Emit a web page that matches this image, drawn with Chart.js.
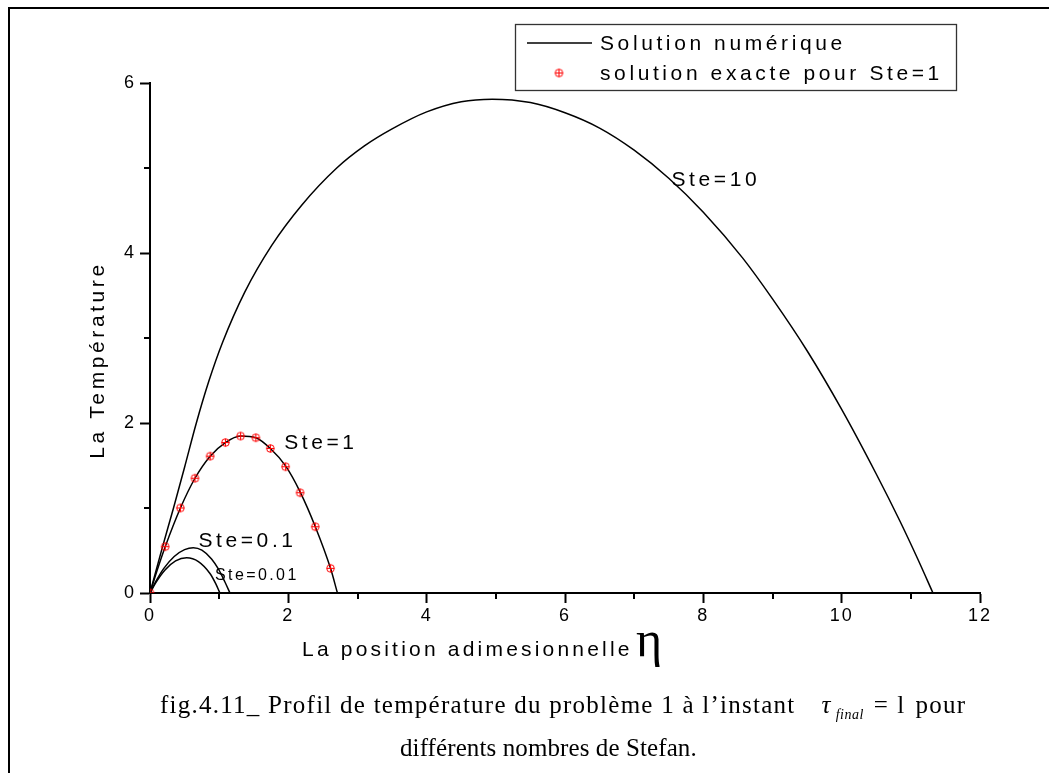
<!DOCTYPE html>
<html>
<head>
<meta charset="utf-8">
<script src="https://cdn.jsdelivr.net/npm/chart.js@4.4.1/dist/chart.umd.min.js"></script>
<style>
  body { margin: 0; background: #fff; }
  #wrap { position: relative; width: 1049px; height: 773px; overflow: hidden; }
  #frame { position: absolute; left: 8px; top: 7px; right: -10px; bottom: -10px; border-top: 2px solid #000; border-left: 2px solid #000; }
  #c { position: absolute; left: 0; top: 0; }
  .cap { position: absolute; font-family: "Liberation Serif", "Times New Roman", serif; font-size: 25px; line-height: 25px; color: #000; white-space: nowrap; }
  .cap .eq { display: inline-block; margin: 0 10px 0 26px; }
  .cap .eq i { font-style: italic; }
  .cap sub { font-style: italic; font-size: 14px; vertical-align: -6px; line-height: 0; margin-left: 4px; letter-spacing: 0.5px; }
  .cap .op { margin: 0 8px 0 10px; }
</style>
</head>
<body>
<div id="wrap">
  <div id="frame"></div>
  <canvas id="c" width="1049" height="773"></canvas>
  <div class="cap" style="left:160px; top:692px; letter-spacing:1.25px">fig.4.11_ Profil de température du problème 1 à l’instant<span class="eq"><i>τ</i><sub>final</sub><span class="op">=</span>l</span>pour</div>
  <div class="cap" style="left:400px; top:735px; letter-spacing:0.1px">différents nombres de Stefan.</div>
</div>
<script>
// axes
const xTicks = [0, 2, 4, 6, 8, 10, 12];
const yTicks = [0, 2, 4, 6];
const xMinor = [1, 3, 5, 7, 9, 11];
const yMinor = [1, 3, 5];

// solution numérique
const ste10X = [0, 0.17, 0.34, 0.5, 0.67, 0.85, 1.05, 1.37, 1.76, 2.19, 2.7, 3.1, 3.5, 4.0, 4.5, 4.95, 5.5, 6.0, 6.5, 7.0, 7.5, 8.0, 8.57, 9.0, 9.5, 10.0, 10.5, 10.84, 11.1, 11.32];
const ste10Y = [0, 0.51, 1.0, 1.48, 2.0, 2.49, 2.95, 3.54, 4.09, 4.56, 5.0, 5.26, 5.46, 5.66, 5.78, 5.81, 5.77, 5.65, 5.47, 5.21, 4.88, 4.48, 3.94, 3.46, 2.85, 2.16, 1.40, 0.85, 0.40, 0];

const ste1X = [0, 0.1, 0.22, 0.44, 0.65, 0.87, 1.09, 1.31, 1.53, 1.74, 1.96, 2.17, 2.39, 2.61, 2.71];
const ste1Y = [0, 0.26, 0.545, 1.0, 1.35, 1.61, 1.77, 1.847, 1.827, 1.70, 1.495, 1.19, 0.78, 0.29, 0];

const ste01X = [0, 0.08, 0.2, 0.35, 0.5, 0.626, 0.75, 0.89, 0.99, 1.08, 1.156];
const ste01Y = [0, 0.13, 0.29, 0.43, 0.51, 0.533, 0.504, 0.40, 0.28, 0.135, 0];

const ste001X = [0, 0.08, 0.217, 0.37, 0.53, 0.7, 0.867, 0.95, 1.01];
const ste001Y = [0, 0.116, 0.27, 0.377, 0.415, 0.37, 0.23, 0.11, 0];

// solution exacte pour Ste=1
const exactX = [0, 0.22, 0.44, 0.65, 0.87, 1.09, 1.31, 1.53, 1.74, 1.96, 2.17, 2.39, 2.61];
const exactY = [0, 0.545, 1.0, 1.35, 1.61, 1.77, 1.847, 1.827, 1.70, 1.486, 1.18, 0.78, 0.29];

const legendLabels = ['Solution numérique', 'solution exacte pour Ste=1'];
const curveNames = ['Ste=10', 'Ste=1', 'Ste=0.1', 'Ste=0.01'];

const pts = (xs, ys) => xs.map((x, i) => ({ x, y: ys[i] }));

// rond rouge avec une croix
function plusCircle() {
  const c = document.createElement('canvas');
  c.width = c.height = 11;
  const g = c.getContext('2d');
  g.strokeStyle = '#ff0000'; g.lineWidth = 1;
  g.beginPath();
  g.arc(5.5, 5.5, 3.8, 0, Math.PI * 2);
  g.moveTo(1.7, 5.5); g.lineTo(9.3, 5.5);
  g.moveTo(5.5, 1.7); g.lineTo(5.5, 9.3);
  g.stroke();
  return c;
}
const marker = plusCircle();

const SANS = '"Liberation Sans", Arial, sans-serif';

function text(ctx, s, x, y, size, spacing, family) {
  ctx.save();
  ctx.font = size + 'px ' + (family || SANS);
  ctx.letterSpacing = spacing + 'px';
  ctx.fillStyle = '#000';
  ctx.textBaseline = 'alphabetic';
  ctx.textAlign = 'left';
  ctx.fillText(s, x, y);
  ctx.restore();
}

// libellés posés en coordonnées de données
const notes = [
  { name: curveNames[0], x: 7.54, y: 4.79, size: 21, sp: 3.6 },
  { name: curveNames[1], x: 1.94, y: 1.69, size: 21, sp: 3.6 },
  { name: curveNames[2], x: 0.70, y: 0.54, size: 21, sp: 3.6 },
  { name: curveNames[3], x: 0.94, y: 0.15, size: 16, sp: 2.4 },
];

const decor = {
  id: 'decor',
  beforeDraw(chart) { chart.ctx.letterSpacing = '2px'; },
  afterDraw(chart) {
    const ctx = chart.ctx, xs = chart.scales.x, ys = chart.scales.y;
    const a = chart.chartArea;
    ctx.save();
    ctx.letterSpacing = '0px';
    ctx.strokeStyle = '#000'; ctx.lineWidth = 2;
    ctx.beginPath();
    xMinor.forEach(v => { const p = Math.round(xs.getPixelForValue(v)); ctx.moveTo(p, a.bottom); ctx.lineTo(p, a.bottom + 6); });
    yMinor.forEach(v => { const p = Math.round(ys.getPixelForValue(v)); ctx.moveTo(a.left, p); ctx.lineTo(a.left - 6, p); });
    ctx.stroke();

    // légende
    ctx.strokeStyle = '#333'; ctx.lineWidth = 1.3;
    ctx.strokeRect(515.5, 24.5, 441, 66);
    ctx.strokeStyle = '#000'; ctx.lineWidth = 1.5;
    ctx.beginPath(); ctx.moveTo(527, 43); ctx.lineTo(592, 43); ctx.stroke();
    ctx.drawImage(marker, 559 - 5.5, 73 - 5.5);
    ctx.restore();
    text(ctx, legendLabels[0], 600, 49.5, 21, 3.6);
    text(ctx, legendLabels[1], 600, 79.5, 21, 3.6);

    notes.forEach(n => text(ctx, n.name, xs.getPixelForValue(n.x), ys.getPixelForValue(n.y), n.size, n.sp));

    // titres des axes
    text(ctx, 'La position adimesionnelle', 302, 656, 21, 3.2);
    text(ctx, 'η', 636, 656, 50, 0, '"Liberation Serif", serif');
    ctx.save();
    ctx.translate(103.5, 360);
    ctx.rotate(-Math.PI / 2);
    ctx.font = '21px ' + SANS;
    ctx.letterSpacing = '3.6px';
    ctx.fillStyle = '#000';
    ctx.textAlign = 'center';
    ctx.fillText('La Température', 0, 0);
    ctx.restore();
  }
};

const line = (xs, ys) => ({
  data: pts(xs, ys), showLine: true, borderColor: '#000', borderWidth: 1.5,
  pointRadius: 0, cubicInterpolationMode: 'monotone', order: 2,
});

new Chart(document.getElementById('c'), {
  type: 'scatter',
  data: {
    datasets: [
      { ...line(ste10X, ste10Y), label: curveNames[0] },
      { ...line(ste1X, ste1Y), label: curveNames[1] },
      { ...line(ste01X, ste01Y), label: curveNames[2] },
      { ...line(ste001X, ste001Y), label: curveNames[3] },
      { label: legendLabels[1], data: pts(exactX, exactY), showLine: false, pointStyle: marker, pointRadius: 4, order: 1 },
    ],
  },
  options: {
    responsive: false, animation: false, devicePixelRatio: 1,
    layout: { padding: { top: 83, right: 69, bottom: 0, left: 0 } },
    plugins: { legend: { display: false }, tooltip: { enabled: false } },
    scales: {
      x: {
        type: 'linear', min: 0, max: 12,
        afterBuildTicks: s => { s.ticks = xTicks.map(v => ({ value: v })); },
        afterFit: s => { s.height = 180; },
        ticks: { color: '#000', font: { family: SANS, size: 18 }, padding: 2, maxRotation: 0 },
        grid: { drawOnChartArea: false, tickLength: 10, tickWidth: 2, tickColor: '#000' },
        border: { display: true, color: '#000', width: 2 },
      },
      y: {
        type: 'linear', min: 0, max: 6,
        afterBuildTicks: s => { s.ticks = yTicks.map(v => ({ value: v })); },
        afterFit: s => { s.width = 150; },
        ticks: { color: '#000', font: { family: SANS, size: 18 }, padding: 4 },
        grid: { drawOnChartArea: false, tickLength: 10, tickWidth: 2, tickColor: '#000' },
        border: { display: true, color: '#000', width: 2 },
      },
    },
  },
  plugins: [decor],
});
</script>
</body>
</html>
